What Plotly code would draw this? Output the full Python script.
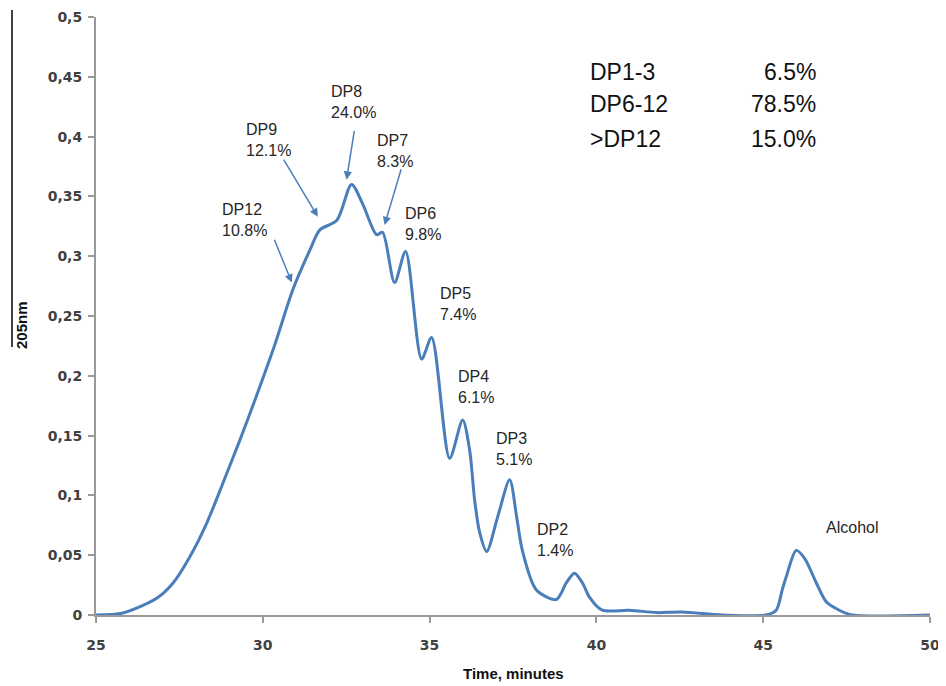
import plotly.graph_objects as go

# ---- data ----
time_min = [25.0, 25.81, 26.83, 27.31, 27.81, 28.32, 28.80, 29.31, 29.82, 30.36,
            30.90, 31.41, 31.71, 32.22, 32.66, 32.99, 33.41, 33.59, 33.95, 34.28,
            34.76, 35.06, 35.60, 35.99, 36.20, 36.35, 36.50, 36.71, 37.04, 37.40,
            37.61, 37.78, 38.20, 38.80, 39.10, 39.34, 39.58, 39.79, 40.18, 40.99,
            41.80, 42.57, 43.77, 45.09, 45.39, 45.57, 45.69, 45.99, 46.25, 46.59,
            46.89, 47.28, 47.67, 50.0]
absorb_205 = [0.0, 0.0017, 0.0142, 0.0268, 0.0485, 0.0769, 0.110, 0.146, 0.184, 0.226,
              0.272, 0.305, 0.322, 0.330, 0.360, 0.344, 0.318, 0.320, 0.278, 0.304,
              0.214, 0.232, 0.131, 0.163, 0.138, 0.096, 0.069, 0.053, 0.082, 0.113,
              0.082, 0.054, 0.021, 0.013, 0.027, 0.035, 0.027, 0.015, 0.004, 0.004,
              0.002, 0.0025, 0.0, 0.0, 0.004, 0.021, 0.032, 0.054, 0.047, 0.027,
              0.011, 0.004, 0.0, 0.0]

x_ticks = [25, 30, 35, 40, 45, 50]
y_ticks = [0, 0.05, 0.1, 0.15, 0.2, 0.25, 0.3, 0.35, 0.4, 0.45, 0.5]
y_tick_labels = ["0", "0,05", "0,1", "0,15", "0,2", "0,25", "0,3", "0,35", "0,4", "0,45", "0,5"]

# peak labels: text, label centre (x, y)
peak_labels = ["DP12<br>10.8%", "DP9<br>12.1%", "DP8<br>24.0%", "DP7<br>8.3%",
               "DP6<br>9.8%", "DP5<br>7.4%", "DP4<br>6.1%", "DP3<br>5.1%",
               "DP2<br>1.4%", "Alcohol"]
label_x = [29.45, 30.16, 32.73, 33.97, 34.81, 35.86, 36.40, 37.54, 38.76, 47.65]
label_y = [0.330, 0.397, 0.429, 0.388, 0.327, 0.260, 0.191, 0.139, 0.063, 0.073]

# arrows: tail (x, y) -> head (x, y)
arrow_tail_x = [30.33, 30.60, 32.75, 34.16]
arrow_tail_y = [0.315, 0.382, 0.406, 0.374]
arrow_head_x = [30.87, 31.65, 32.51, 33.65]
arrow_head_y = [0.278, 0.333, 0.364, 0.326]

summary_names = ["DP1-3", "DP6-12", ">DP12"]
summary_values = ["6.5%", "78.5%", "15.0%"]

# ---- figure ----
line_color = "#4a7ebb"
axis_color = "#9a9a9a"
text_color = "#262626"
tick_font = dict(family="DejaVu Sans", size=14, color="#404040", weight="bold")

fig = go.Figure()
fig.add_trace(go.Scatter(
    x=time_min, y=absorb_205, mode="lines",
    line=dict(color=line_color, width=3, shape="spline", smoothing=0.8),
    hoverinfo="skip", showlegend=False,
))

annotations = []
for t, lx, ly in zip(peak_labels, label_x, label_y):
    annotations.append(dict(x=lx, y=ly, xref="x", yref="y", text=t, showarrow=False,
                            font=dict(family="Liberation Sans", size=16, color=text_color),
                            align="left", xanchor="center", yanchor="middle"))
for tx, ty, hx, hy in zip(arrow_tail_x, arrow_tail_y, arrow_head_x, arrow_head_y):
    annotations.append(dict(x=hx, y=hy, ax=tx, ay=ty, xref="x", yref="y", axref="x", ayref="y",
                            text="", showarrow=True, arrowhead=2, arrowsize=1.1,
                            arrowwidth=1.5, arrowcolor=line_color))

row_py = [72, 104, 139]
for name, val, py in zip(summary_names, summary_values, row_py):
    yp = (615 - py) / 598
    annotations.append(dict(x=(588 - 96) / 834, y=yp, xref="paper", yref="paper", text=name,
                            showarrow=False, xanchor="left", yanchor="middle",
                            font=dict(family="Liberation Sans", size=23, color="#111")))
    annotations.append(dict(x=(818 - 96) / 834, y=yp, xref="paper", yref="paper", text=val,
                            showarrow=False, xanchor="right", yanchor="middle",
                            font=dict(family="Liberation Sans", size=23, color="#111")))

# y axis title
annotations.append(dict(x=(21 - 96) / 834, y=(615 - 325) / 598, xref="paper", yref="paper",
                        text="<b>205nm</b>", textangle=-90, showarrow=False,
                        xanchor="center", yanchor="middle",
                        font=dict(family="Liberation Sans", size=15, color="#111")))

# x axis title (placed explicitly so it sits where the reference has it)
annotations.append(dict(x=(513 - 96) / 834, y=(615 - 673) / 598, xref="paper", yref="paper",
                        text="<b>Time, minutes</b>", showarrow=False,
                        xanchor="center", yanchor="middle",
                        font=dict(family="Liberation Sans", size=15, color="#111")))

fig.update_layout(
    width=946, height=686,
    # page body adds an 8px offset; margins compensate so the plot area lands at 96..930 / 17..615
    margin=dict(l=88, r=24, t=9, b=79, autoexpand=False),
    paper_bgcolor="white", plot_bgcolor="white",
    annotations=annotations,
    shapes=[dict(type="line", xref="paper", yref="paper",
                 x0=(12 - 96) / 834, x1=(12 - 96) / 834,
                 y0=(615 - 347) / 598, y1=(615 - 10) / 598,
                 line=dict(color="black", width=1.5))],
    xaxis=dict(range=[25, 50], tickvals=x_ticks, ticktext=[str(v) for v in x_ticks],
               showgrid=False, zeroline=False, showline=True, linecolor=axis_color,
               linewidth=2, ticks="outside", ticklen=6, tickcolor=axis_color, tickwidth=1.5,
               tickfont=tick_font, automargin=False, ticklabelstandoff=10,
               layer="below traces"),
    yaxis=dict(range=[0, 0.5], tickvals=y_ticks, ticktext=y_tick_labels,
               showgrid=False, zeroline=False, showline=True, linecolor=axis_color,
               linewidth=2, ticks="outside", ticklen=6, tickcolor=axis_color, tickwidth=1.5,
               tickfont=tick_font, automargin=False, ticklabelstandoff=3,
               layer="below traces"),
)

fig.write_html("out.html")
